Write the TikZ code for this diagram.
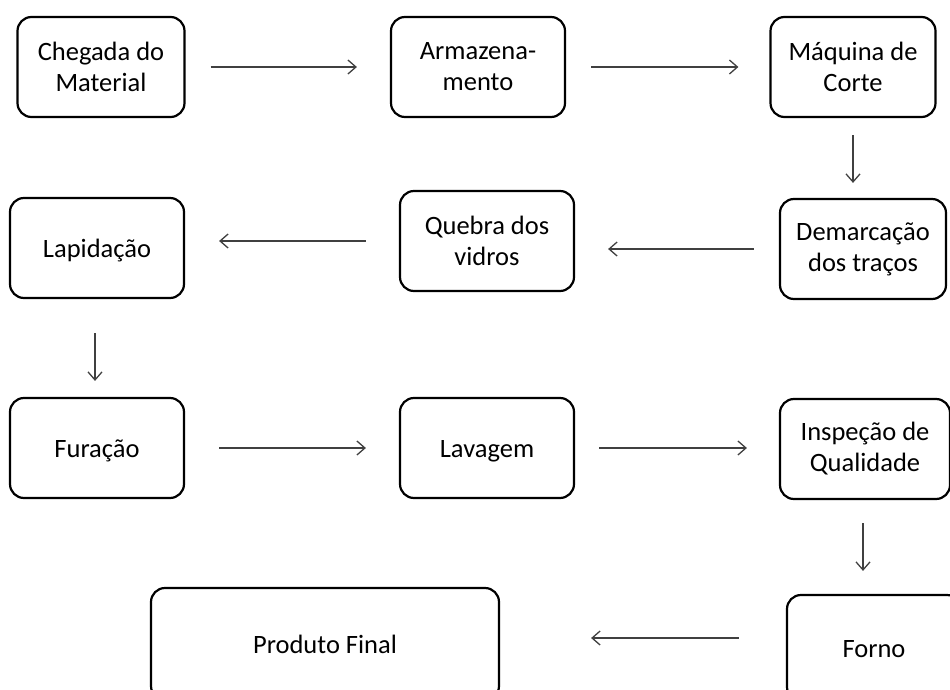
\documentclass[tikz,border=0pt]{standalone}
\usepackage{fontspec}
\setmainfont{Carlito}
\usepackage{tikz}
\usetikzlibrary{arrows.meta,positioning,calc}
\newcommand{\etapafont}{\fontsize{26.5}{31}\selectfont}
\tikzstyle{etapa} = [rectangle, draw, rounded corners=14pt, line width=2.2pt, text centered, align=center, minimum height=100pt, minimum width=172pt, inner sep=0pt, font=\etapafont]
\tikzstyle{unica} = [text height=25pt, text depth=6pt]
\tikzstyle{seta} = [line width=1.3pt, draw=black!75, -{Straight Barb[length=8pt,width=14pt]}]

\begin{document}
\begin{tikzpicture}[x=1pt, y=-1pt]
    \useasboundingbox (0,0) rectangle (950,690);
    \clip (0,0) rectangle (950,690);
    \node[etapa, minimum width=167pt] (chegada) at (101,67) {Chegada do\\Material};
    \node[etapa, minimum width=174pt] (armaz) at (478,67) {Armazena-\\mento};
    \node[etapa, minimum width=165pt] (maquina) at (853,67) {Máquina de\\Corte};
    \node[etapa, minimum width=166pt] (demarc) at (863,249) {Demarcação\\dos traços};
    \node[etapa, minimum width=174pt] (quebra) at (487,241) {Quebra dos\\vidros};
    \node[etapa, unica, minimum width=174pt] (lapid) at (97,248) {Lapidação};
    \node[etapa, unica, minimum width=174pt] (furacao) at (97,448) {Furação};
    \node[etapa, unica, minimum width=174pt] (lavagem) at (487,448) {Lavagem};
    \node[etapa, minimum width=170pt] (inspecao) at (865,449) {Inspeção de\\Qualidade};
    \node[etapa, unica, minimum width=174pt, minimum height=106pt] (forno) at (874,648) {Forno};
    \node[etapa, unica, minimum width=348pt, minimum height=112pt] (produto) at (325,644) {Produto Final};
    \draw[seta, shorten <=25pt, shorten >=33pt] (chegada.east) -- (chegada.east -| armaz.west);
    \draw[seta, shorten <=25pt, shorten >=31pt] (armaz.east) -- (armaz.east -| maquina.west);
    \draw[seta, shorten <=17pt, shorten >=15pt] (maquina.south) -- (maquina.south |- demarc.north);
    \draw[seta, shorten <=25pt, shorten >=33pt] (demarc.west) -- (demarc.west -| quebra.east);
    \draw[seta, shorten <=33pt, shorten >=34pt] (quebra.west) -- (quebra.west -| lapid.east);
    \draw[seta, shorten <=34pt, shorten >=16pt] ([xshift=-2pt]lapid.south) -- ([xshift=-2pt]lapid.south |- furacao.north);
    \draw[seta, shorten <=34pt, shorten >=33pt] (furacao.east) -- (furacao.east -| lavagem.west);
    \draw[seta, shorten <=24pt, shorten >=32pt] (lavagem.east) -- (lavagem.east -| inspecao.west);
    \draw[seta, shorten <=23pt, shorten >=23pt] ([xshift=-2pt]inspecao.south) -- ([xshift=-2pt]inspecao.south |- forno.north);
    \draw[seta, shorten <=47pt, shorten >=91pt] ([yshift=10pt]forno.west) -- ([yshift=10pt]forno.west -| produto.east);
\end{tikzpicture}
\end{document}
